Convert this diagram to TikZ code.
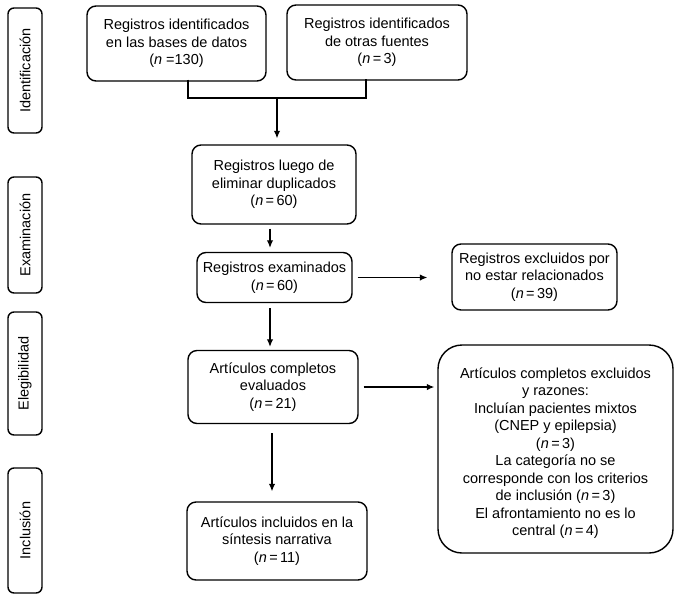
\documentclass[tikz,border=0pt]{standalone}
\usepackage{fontspec}
\setmainfont{Liberation Sans}
\usetikzlibrary{arrows.meta,calc}
\begin{document}
\begin{tikzpicture}[x=1pt,y=-1pt,
  box/.style={draw,line width=1.4pt,rounded corners=9pt,inner sep=0pt,align=center,font=\fontsize{14.5}{17.5}\selectfont},
  txt/.style={inner sep=0pt,align=center,font=\fontsize{14.5}{17.5}\selectfont},
  side/.style={draw,line width=1.4pt,rounded corners=6pt,inner sep=0pt,minimum width=34pt,font=\fontsize{14.5}{17.5}\selectfont},
  arr/.style={line width=1.2pt,-{Latex[length=7.5pt,width=6.5pt]}},
  ln/.style={line width=1.2pt}]
\useasboundingbox (0,0) rectangle (680,595);
% side labels
\node[side,minimum height=125pt] (s1) at (25,70.5) {\rotatebox{90}{Identificación}};
\node[side,minimum height=116pt] (s2) at (25,235) {\rotatebox{90}{Examinación}};
\node[side,minimum height=123pt] (s3) at (25,373.5) {\rotatebox{90}{Elegibilidad}};
\node[side,minimum height=125pt] (s4) at (25,530.5) {\rotatebox{90}{Inclusión}};
% boxes
\node[box,minimum width=179pt,minimum height=75pt] (A) at (176.5,43.5) {Registros identificados\\en las bases de datos\\(\textit{n} =130)};
\node[box,minimum width=180pt,minimum height=75pt] (B) at (377,42.5) {Registros identificados\\de otras fuentes\\(\textit{n}\,=\,3)};
\node[box,minimum width=164pt,minimum height=79pt] (C) at (274,184.5) {Registros luego de\\eliminar duplicados\\(\textit{n}\,=\,60)};
\node[box,minimum width=155pt,minimum height=50pt] (D) at (274.5,277.5) {Registros examinados\\(\textit{n}\,=\,60)};
\node[box,minimum width=165pt,minimum height=66pt] (E) at (534.5,277) {Registros excluidos por\\no estar relacionados\\(\textit{n}\,=\,39)};
\node[box,minimum width=170pt,minimum height=73pt] (F) at (273,387) {Artículos completos\\evaluados\\(\textit{n}\,=\,21)};
\node[box,rounded corners=24pt,minimum width=235pt,minimum height=208pt] (G) at (555.5,449) {};
\node[txt] (Gt) at ([yshift=-4pt]G.center) {Artículos completos excluidos\\y razones:\\Incluían pacientes mixtos\\(CNEP y epilepsia)\\(\textit{n}\,=\,3)\\La categoría no se\\corresponde con los criterios\\de inclusión (\textit{n}\,=\,3)\\El afrontamiento no es lo\\central (\textit{n}\,=\,4)};
\node[box,minimum width=180pt,minimum height=78pt] (H) at (277,541) {Artículos incluidos en la\\síntesis narrativa\\(\textit{n}\,=\,11)};
% connectors
\coordinate (j) at (277,98);
\draw[ln] ([xshift=11.5pt,yshift=2pt]A.south) |- (j) -| ([xshift=-11pt,yshift=2pt]B.south);
\draw[arr,shorten >=6pt] (j) -- (j |- C.north);
\draw[arr,shorten <=4pt,shorten >=4pt] ([xshift=-4pt]C.south) -- ([xshift=-4pt]C.south |- D.north);
\draw[arr,shorten <=5pt,shorten >=24pt] (D.east) -- (D.east -| E.west);
\draw[arr,shorten <=5pt,shorten >=3pt] ([xshift=-4.5pt]D.south) -- ([xshift=-4.5pt]D.south |- F.north);
\draw[arr,shorten <=5pt,shorten >=3pt] (F.east) -- (F.east -| G.west);
\draw[arr,shorten <=9pt,shorten >=10pt] ([xshift=-1pt]F.south) -- ([xshift=-1pt]F.south |- H.north);
\end{tikzpicture}
\end{document}
